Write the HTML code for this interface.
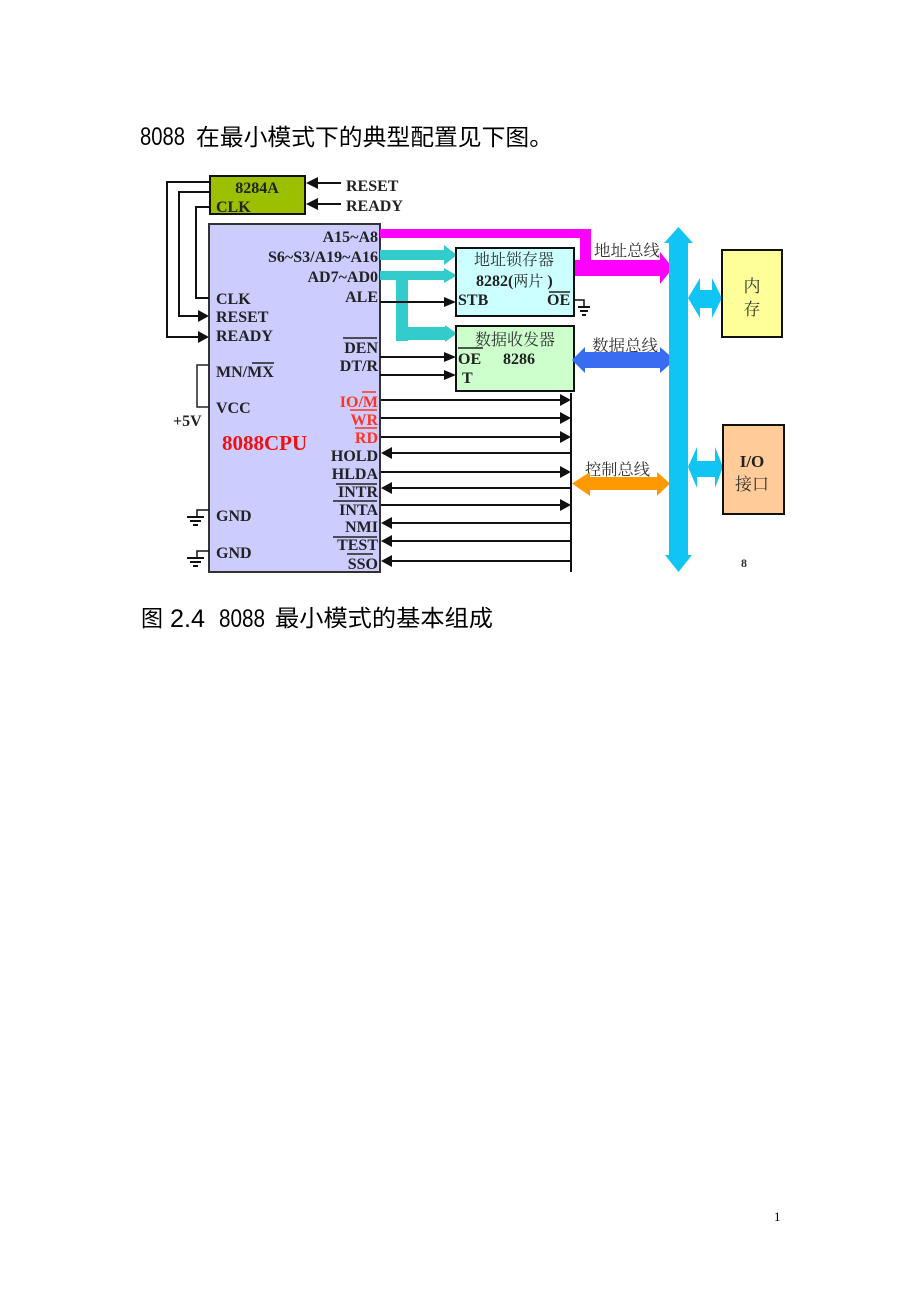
<!DOCTYPE html>
<html><head><meta charset="utf-8"><style>
html,body{margin:0;padding:0;background:#fff;}
svg{display:block;}
.l{font-family:"Liberation Serif",serif;font-weight:bold;font-size:16px;fill:#222;}
.c{font-family:"Liberation Serif","Noto Serif CJK SC",serif;font-size:16px;fill:#333;}
.t{font-family:"Liberation Sans","Noto Sans CJK SC",sans-serif;fill:#000;}
</style></head><body>
<svg width="920" height="1302" viewBox="0 0 920 1302" xmlns="http://www.w3.org/2000/svg">
<!-- title -->
<text class="t" x="140" y="145" font-size="25" textLength="45" lengthAdjust="spacingAndGlyphs">8088</text>
<text class="t" x="196" y="145" font-size="23" textLength="357" lengthAdjust="spacingAndGlyphs">在最小模式下的典型配置见下图。</text>

<!-- caption -->
<text class="t" x="141" y="626" font-size="23" textLength="22" lengthAdjust="spacingAndGlyphs">图</text>
<text class="t" x="170" y="627" font-size="25" textLength="35" lengthAdjust="spacingAndGlyphs">2.4</text>
<text class="t" x="219" y="627" font-size="25" textLength="46" lengthAdjust="spacingAndGlyphs">8088</text>
<text class="t" x="275" y="626" font-size="23" textLength="218" lengthAdjust="spacingAndGlyphs">最小模式的基本组成</text>

<!-- page number -->
<text x="774" y="1221" font-family="Liberation Serif,serif" font-size="13" fill="#000">1</text>

<!-- 8284A -->
<rect x="210" y="176" width="95" height="38" fill="#9cc000" stroke="#111" stroke-width="2"/>
<text class="l" x="257" y="193" text-anchor="middle">8284A</text>
<text class="l" x="216" y="212">CLK</text>
<line x1="318" y1="183" x2="341" y2="183" stroke="#111" stroke-width="2"/>
<polygon points="306,183 318,177 318,189" fill="#111"/>
<line x1="318" y1="204" x2="341" y2="204" stroke="#111" stroke-width="2"/>
<polygon points="306,204 318,198 318,210" fill="#111"/>
<text class="l" x="346" y="191">RESET</text>
<text class="l" x="346" y="211">READY</text>

<!-- CPU -->
<rect x="209" y="224" width="171" height="348" fill="#ccccff" stroke="#333" stroke-width="2"/>

<!-- left wiring -->
<polyline points="210,182 167,182 167,337 198,337" fill="none" stroke="#111" stroke-width="2"/>
<polygon points="198,331 209,337 198,343" fill="#111"/>
<polyline points="210,192 179,192 179,316 198,316" fill="none" stroke="#111" stroke-width="2"/>
<polygon points="198,310 209,316 198,322" fill="#111"/>
<polyline points="210,207 196,207 196,298 209,298" fill="none" stroke="#111" stroke-width="2"/>
<polyline points="209,365 197,365 197,407 209,407" fill="none" stroke="#222" stroke-width="1.5"/>

<!-- ground symbols -->
<polyline points="209,510 197,510 197,517" fill="none" stroke="#111" stroke-width="1.5"/>
<line x1="187" y1="517" x2="204" y2="517" stroke="#111" stroke-width="2"/>
<line x1="190" y1="521" x2="201" y2="521" stroke="#111" stroke-width="2"/>
<line x1="193" y1="525" x2="198" y2="525" stroke="#111" stroke-width="2"/>
<polyline points="209,551 197,551 197,558" fill="none" stroke="#111" stroke-width="1.5"/>
<line x1="187" y1="558" x2="204" y2="558" stroke="#111" stroke-width="2"/>
<line x1="190" y1="562" x2="201" y2="562" stroke="#111" stroke-width="2"/>
<line x1="193" y1="566" x2="198" y2="566" stroke="#111" stroke-width="2"/>

<!-- CPU left labels -->
<text class="l" x="216" y="304">CLK</text>
<text class="l" x="216" y="322">RESET</text>
<text class="l" x="216" y="341">READY</text>
<text class="l" x="216" y="377">MN/MX</text>
<line x1="252" y1="363" x2="274" y2="363" stroke="#222" stroke-width="1.5"/>
<text class="l" x="216" y="413">VCC</text>
<text class="l" x="173" y="426">+5V</text>
<text x="222" y="450" font-family="Liberation Serif,serif" font-weight="bold" font-size="21" fill="#ee1111">8088CPU</text>
<text class="l" x="216" y="521">GND</text>
<text class="l" x="216" y="558">GND</text>

<!-- CPU right labels -->
<g text-anchor="end">
<text class="l" x="378" y="242">A15~A8</text>
<text class="l" x="378" y="262">S6~S3/A19~A16</text>
<text class="l" x="378" y="282">AD7~AD0</text>
<text class="l" x="378" y="302">ALE</text>
<text class="l" x="378" y="353">DEN</text>
<text class="l" x="378" y="371">DT/R</text>
<text class="l" x="378" y="407" style="fill:#ff3322">IO/M</text>
<text class="l" x="378" y="425" style="fill:#ff3322">WR</text>
<text class="l" x="378" y="443" style="fill:#ff3322">RD</text>
<text class="l" x="378" y="461">HOLD</text>
<text class="l" x="378" y="479">HLDA</text>
<text class="l" x="378" y="497">INTR</text>
<text class="l" x="378" y="515">INTA</text>
<text class="l" x="378" y="532">NMI</text>
<text class="l" x="378" y="550">TEST</text>
<text class="l" x="378" y="569">SSO</text>
</g>
<g stroke-width="1.5">
<line x1="343" y1="338" x2="377" y2="338" stroke="#222"/>
<line x1="362" y1="392" x2="376" y2="392" stroke="#ff3322"/>
<line x1="350" y1="410" x2="377" y2="410" stroke="#ff3322"/>
<line x1="355" y1="428" x2="377" y2="428" stroke="#ff3322"/>
<line x1="336" y1="484" x2="377" y2="484" stroke="#222"/>
<line x1="333" y1="501" x2="377" y2="501" stroke="#222"/>
<line x1="333" y1="537" x2="377" y2="537" stroke="#222"/>
<line x1="347" y1="554" x2="373" y2="554" stroke="#222"/>
</g>

<!-- magenta address bus -->
<rect x="380" y="229" width="211" height="9" fill="#ff00ff"/>
<rect x="580" y="229" width="11" height="47" fill="#ff00ff"/>
<rect x="573" y="260" width="88" height="16" fill="#ff00ff"/>
<polygon points="660,252 673,268 660,284" fill="#ff00ff"/>

<!-- teal arrows -->
<g fill="#33cccc">
<rect x="380" y="250" width="65" height="10"/>
<polygon points="444,245 457,255 444,265"/>
<rect x="380" y="271" width="65" height="9"/>
<polygon points="444,268 457,275.5 444,283"/>
<rect x="396" y="271" width="12" height="70"/>
<rect x="396" y="327" width="50" height="13"/>
<polygon points="445,325 457,333.5 445,342"/>
</g>

<!-- ALE / DEN / DT/R lines -->
<line x1="380" y1="302" x2="445" y2="302" stroke="#111" stroke-width="2"/>
<polygon points="444,297 456,302 444,307" fill="#111"/>
<line x1="380" y1="357" x2="445" y2="357" stroke="#111" stroke-width="2"/>
<polygon points="444,352 456,357 444,362" fill="#111"/>
<line x1="380" y1="375" x2="445" y2="375" stroke="#111" stroke-width="2"/>
<polygon points="444,370 456,375 444,380" fill="#111"/>

<!-- 8282 -->
<rect x="456" y="248" width="118" height="68" fill="#ccffff" stroke="#111" stroke-width="2"/>
<text class="c" x="514" y="265" text-anchor="middle">地址锁存器</text>
<text x="476" y="286" font-family="Liberation Serif,serif" font-weight="bold" font-size="16" fill="#222">8282(<tspan font-family="Noto Serif CJK SC,serif" font-weight="normal" font-size="15">两片</tspan> )</text>
<text class="l" x="458" y="305">STB</text>
<text class="l" x="547" y="305">OE</text>
<line x1="549" y1="292" x2="570" y2="292" stroke="#222" stroke-width="1.5"/>
<polyline points="574,300 584,300 584,307" fill="none" stroke="#111" stroke-width="1.5"/>
<line x1="578" y1="307" x2="590" y2="307" stroke="#111" stroke-width="2"/>
<line x1="580" y1="311" x2="588" y2="311" stroke="#111" stroke-width="2"/>
<line x1="582" y1="315" x2="586" y2="315" stroke="#111" stroke-width="2"/>

<!-- 8286 -->
<rect x="456" y="326" width="118" height="65" fill="#ccffcc" stroke="#111" stroke-width="2"/>
<text class="c" x="515" y="345" text-anchor="middle">数据收发器</text>
<text class="l" x="458" y="364">OE</text>
<line x1="458" y1="348" x2="483" y2="348" stroke="#222" stroke-width="1.5"/>
<text class="l" x="503" y="364">8286</text>
<text class="l" x="462" y="383">T</text>

<!-- bus labels -->
<text class="c" x="594" y="256" textLength="66" lengthAdjust="spacingAndGlyphs">地址总线</text>
<text class="c" x="592" y="351" textLength="66" lengthAdjust="spacingAndGlyphs">数据总线</text>
<text class="c" x="585" y="475" textLength="65" lengthAdjust="spacingAndGlyphs">控制总线</text>

<!-- blue data bus -->
<g fill="#3a6cf2">
<rect x="584" y="352" width="77" height="16"/>
<polygon points="572,360 585,347 585,373"/>
<polygon points="660,347 675,360 660,373"/>
</g>

<!-- control bus line and arrows -->
<line x1="571" y1="393" x2="571" y2="572" stroke="#111" stroke-width="2"/>
<g stroke="#111" stroke-width="2">
<line x1="381" y1="400" x2="562" y2="400"/>
<line x1="381" y1="418" x2="562" y2="418"/>
<line x1="381" y1="437" x2="562" y2="437"/>
<line x1="390" y1="453" x2="571" y2="453"/>
<line x1="381" y1="472" x2="562" y2="472"/>
<line x1="390" y1="488" x2="571" y2="488"/>
<line x1="381" y1="505" x2="562" y2="505"/>
<line x1="390" y1="523" x2="571" y2="523"/>
<line x1="390" y1="541" x2="571" y2="541"/>
<line x1="390" y1="561" x2="571" y2="561"/>
</g>
<g fill="#111">
<polygon points="560,394 571,400 560,406"/>
<polygon points="560,412 571,418 560,424"/>
<polygon points="560,431 571,437 560,443"/>
<polygon points="392,447 381,453 392,459"/>
<polygon points="560,466 571,472 560,478"/>
<polygon points="392,482 381,488 392,494"/>
<polygon points="560,499 571,505 560,511"/>
<polygon points="392,517 381,523 392,529"/>
<polygon points="392,535 381,541 392,547"/>
<polygon points="392,555 381,561 392,567"/>
</g>

<!-- orange control bus -->
<g fill="#ff9900">
<rect x="588" y="477" width="70" height="13"/>
<polygon points="572,483.5 590,472 590,496"/>
<polygon points="657,472 670,483.5 657,496"/>
</g>

<!-- cyan system bus -->
<g fill="#10c4f4">
<rect x="669" y="242" width="19" height="314"/>
<polygon points="664,243 678.5,227 693,243"/>
<polygon points="665,555 678.5,572 692,555"/>
<!-- memory link -->
<rect x="699" y="290" width="14" height="18"/>
<polygon points="688,298 700,278 700,318"/>
<polygon points="712,278 722,298 712,318"/>
<!-- io link -->
<rect x="696" y="461" width="20" height="16"/>
<polygon points="688,467 697,447 697,488"/>
<polygon points="715,447 723,467 715,488"/>
</g>

<!-- memory -->
<rect x="722" y="250" width="60" height="87" fill="#ffff99" stroke="#111" stroke-width="2"/>
<text x="752" y="292" text-anchor="middle" font-family="Noto Serif CJK SC,serif" font-size="17" fill="#333">内</text>
<text x="752" y="315" text-anchor="middle" font-family="Noto Serif CJK SC,serif" font-size="17" fill="#333">存</text>

<!-- IO -->
<rect x="723" y="425" width="61" height="89" fill="#ffcc99" stroke="#111" stroke-width="2"/>
<text x="752" y="467" text-anchor="middle" font-family="Liberation Serif,serif" font-weight="bold" font-size="17" fill="#222">I/O</text>
<text x="752" y="490" text-anchor="middle" font-family="Noto Serif CJK SC,serif" font-size="17" fill="#333">接口</text>

<text x="741" y="567" font-family="Liberation Serif,serif" font-weight="bold" font-size="12" fill="#333">8</text>
</svg>
</body></html>
